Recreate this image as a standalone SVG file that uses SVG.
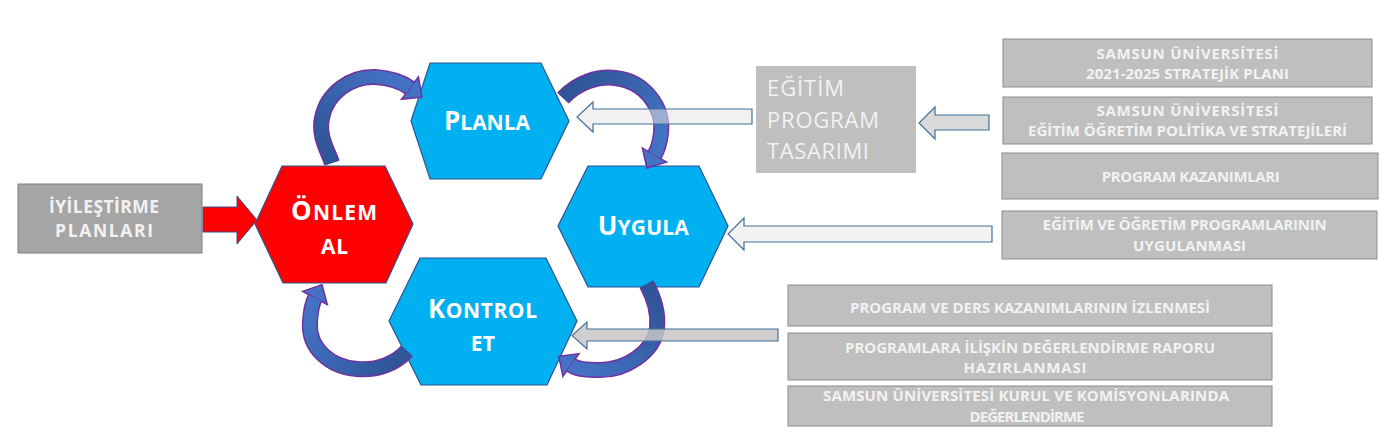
<svg xmlns="http://www.w3.org/2000/svg" width="1391" height="439" viewBox="0 0 1391 439">
<defs>
<style>
.hex{stroke:#2F528F;stroke-width:1.2}
.blue{fill:#00B0F0}
.red{fill:#FF0000}
.hl{font-family:'Open Sans',Lato,sans-serif;font-weight:700;fill:#FFFFFF;text-anchor:middle}
.big{font-size:26px}
.sm{font-size:21px}
.box{fill:#BFBFBF;stroke:#8C8C8C;stroke-width:1}
.bt{font-family:'Open Sans',Lato,sans-serif;font-weight:700;font-size:15px;fill:#F2F2F2;text-anchor:middle}
.bt2{font-family:'Open Sans',Lato,sans-serif;font-weight:700;font-size:17.5px;fill:#F2F2F2;text-anchor:middle}
.et{font-family:'Open Sans',Lato,sans-serif;font-size:22px;fill:#F2F2F2}
.blk{stroke:#41719C;stroke-width:1.2}
.bandO{fill:none;stroke:#7030A0;stroke-width:16}
.band{fill:none;stroke-width:13}
.head{stroke:#7030A0;stroke-width:1.5;stroke-linejoin:miter}
</style>
<linearGradient id="gA" gradientUnits="userSpaceOnUse" x1="332" y1="163" x2="410" y2="88"><stop offset="0" stop-color="#2F5597"/><stop offset="1" stop-color="#4472C4"/></linearGradient>
<linearGradient id="gB" gradientUnits="userSpaceOnUse" x1="563" y1="98" x2="654" y2="155"><stop offset="0" stop-color="#2F5597"/><stop offset="1" stop-color="#4472C4"/></linearGradient>
<linearGradient id="gC" gradientUnits="userSpaceOnUse" x1="646" y1="284" x2="571" y2="365"><stop offset="0" stop-color="#2F5597"/><stop offset="1" stop-color="#4472C4"/></linearGradient>
<linearGradient id="gD" gradientUnits="userSpaceOnUse" x1="407" y1="351" x2="315" y2="298"><stop offset="0" stop-color="#2F5597"/><stop offset="1" stop-color="#4472C4"/></linearGradient>
</defs>
<rect width="1391" height="439" fill="#FFFFFF"/>

<g id="n-planla">
<polygon class="hex blue" points="430,63 541,63 569,121 541,179 430,179 411,121"/>
<text class="hl" x="487" y="130" textLength="86"><tspan class="big">P</tspan><tspan class="sm">LANLA</tspan></text>
</g>
<g id="n-onlem">
<polygon class="hex red" points="282,166 385,166 413,224 386,283 283,283 255,224"/>
<text class="hl" x="334" y="220" textLength="86"><tspan class="big">Ö</tspan><tspan class="sm">NLEM</tspan></text>
<text class="hl sm" x="334.5" y="254" textLength="27">AL</text>
</g>
<g id="n-uygula">
<polygon class="hex blue" points="588,166 699,166 728,226 699,287 588,287 558,226"/>
<text class="hl" x="643.3" y="235" textLength="91"><tspan class="big">U</tspan><tspan class="sm">YGULA</tspan></text>
</g>
<g id="n-kontrol">
<polygon class="hex blue" points="420,258 546,258 577,321 547,385 421,385 389,321"/>
<text class="hl" x="482.5" y="318" textLength="109"><tspan class="big">K</tspan><tspan class="sm">ONTROL</tspan></text>
<text class="hl sm" x="482.8" y="351" textLength="24">ET</text>
</g>

<g id="n-iyilestirme">
<rect x="18" y="184" width="184" height="69" fill="#A5A5A5" stroke="#808080" stroke-width="1"/>
<text class="bt2" x="104" y="213" textLength="110">İYİLEŞTİRME</text>
<text class="bt2" x="104" y="237" textLength="98">PLANLARI</text>
</g>
<g id="n-egitim-tasarim">
<rect x="756" y="66" width="160" height="107" fill="#BFBFBF"/>
<text class="et" x="767" y="96" textLength="77">EĞİTİM</text>
<text class="et" x="767" y="128" textLength="112">PROGRAM</text>
<text class="et" x="767" y="159" textLength="102">TASARIMI</text>
</g>
<g id="n-stratejik">
<rect class="box" x="1003" y="39" width="369" height="48"/>
<text class="bt" x="1187.5" y="59" textLength="182">SAMSUN ÜNİVERSİTESİ</text>
<text class="bt" x="1187.5" y="79" textLength="203">2021-2025 STRATEJİK PLANI</text>
</g>
<g id="n-politika">
<rect class="box" x="1003" y="97" width="369" height="47"/>
<text class="bt" x="1187.5" y="116" textLength="182">SAMSUN ÜNİVERSİTESİ</text>
<text class="bt" x="1187.5" y="136" textLength="319">EĞİTİM ÖĞRETİM POLİTİKA VE STRATEJİLERİ</text>
</g>
<g id="n-kazanim">
<rect class="box" x="1002" y="153" width="376" height="46"/>
<text class="bt" x="1190.8" y="182" textLength="178">PROGRAM KAZANIMLARI</text>
</g>
<g id="n-uygulanma">
<rect class="box" x="1002" y="211" width="375" height="48"/>
<text class="bt" x="1184.8" y="230" textLength="284">EĞİTİM VE ÖĞRETİM PROGRAMLARININ</text>
<text class="bt" x="1189.5" y="251" textLength="113">UYGULANMASI</text>
</g>
<g id="n-izlenme">
<rect class="box" x="788" y="285" width="484" height="41"/>
<text class="bt" x="1030" y="313" textLength="360">PROGRAM VE DERS KAZANIMLARININ İZLENMESİ</text>
</g>
<g id="n-rapor">
<rect class="box" x="788" y="333" width="484" height="47"/>
<text class="bt" x="1030" y="353" textLength="370">PROGRAMLARA İLİŞKİN DEĞERLENDİRME RAPORU</text>
<text class="bt" x="1025" y="373" textLength="123">HAZIRLANMASI</text>
</g>
<g id="n-kurul">
<rect class="box" x="788" y="386" width="484" height="40"/>
<text class="bt" x="1026" y="401" textLength="406">SAMSUN ÜNİVERSİTESİ KURUL VE KOMİSYONLARINDA</text>
<text class="bt" x="1027" y="422" textLength="115">DEĞERLENDİRME</text>
</g>

<g id="connectors">
<g id="c-onlem-planla">
<polygon class="head" fill="url(#gA)" points="401.6,99.2 418.4,76.8 422,97"/>
<path class="bandO" d="M332,163 C328,151 318,136 322,118 C327,92 352,76 375,77 C390,78 402,82 410,88"/>
<path class="band" stroke="url(#gA)" d="M332,163 C328,151 318,136 322,118 C327,92 352,76 375,77 C390,78 402,82 410,88"/>
</g>
<g id="c-planla-uygula">
<polygon class="head" fill="url(#gB)" points="666.6,162.1 642.4,147.9 646.9,168"/>
<path class="bandO" d="M563,98 C578,82 598,76 615,78 C645,81 664,108 661,133 C660,142 658,149 654.5,155"/>
<path class="band" stroke="url(#gB)" d="M563,98 C578,82 598,76 615,78 C645,81 664,108 661,133 C660,142 658,149 654.5,155"/>
</g>
<g id="c-uygula-kontrol">
<polygon class="head" fill="url(#gC)" points="579.1,353.6 562.9,376.4 558.8,356.3"/>
<path class="bandO" d="M646.5,284 C653,296 659,310 657,328 C654,352 625,371 598,370 C590,370 578,370 571,365"/>
<path class="band" stroke="url(#gC)" d="M646.5,284 C653,296 659,310 657,328 C654,352 625,371 598,370 C590,370 578,370 571,365"/>
</g>
<g id="c-kontrol-onlem">
<polygon class="head" fill="url(#gD)" points="327.3,304.6 302.7,291.4 322,284.8"/>
<path class="bandO" d="M407,351 C396,363 378,371 357,369 C330,367 308,348 310,322 C310.5,314 311.7,304.2 315,298"/>
<path class="band" stroke="url(#gD)" d="M407,351 C396,363 378,371 357,369 C330,367 308,348 310,322 C310.5,314 311.7,304.2 315,298"/>
</g>
<polygon id="c-iyilestirme-onlem" fill="#FF0000" stroke="#2F528F" stroke-width="1" points="203,207 237,207 237,196 257,220 237,244 237,232 203,232"/>
<polygon id="c-politika-tasarim" class="blk" fill="#D9D9D9" points="989,115 935,115 935,107 919,123 935,139 935,130 989,130"/>
<polygon id="c-tasarim-planla" class="blk" fill="#E6E6E6" fill-opacity="0.55" points="752,109 593,109 593,102 577,117 593,132 593,124 752,124"/>
<polygon id="c-uygulanma-uygula" class="blk" fill="#F2F2F2" points="992,226 744,226 744,218 728,234 744,250 744,242 992,242"/>
<polygon id="c-izlenme-kontrol" class="blk" fill="#C8C6C6" fill-opacity="0.85" points="778,329 587,329 587,322 572,335.5 587,349 587,341 778,341"/>
</g>
</svg>
